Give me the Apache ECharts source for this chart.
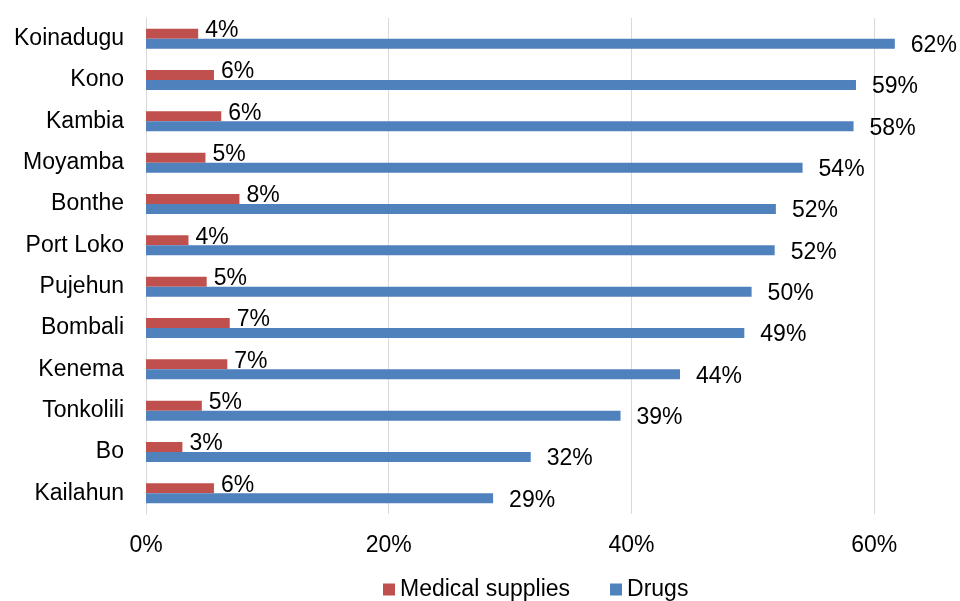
<!DOCTYPE html>
<html>
<head>
<meta charset="utf-8">
<script src="https://cdn.jsdelivr.net/npm/echarts@6/dist/echarts.min.js"></script>
<style>
html,body{margin:0;padding:0;background:#fff;}
#chart{width:960px;height:601px;}
</style>
</head>
<body>
<div id="chart"></div>
<script>
// Categories listed top to bottom
const districts = ['Koinadugu','Kono','Kambia','Moyamba','Bonthe','Port Loko','Pujehun','Bombali','Kenema','Tonkolili','Bo','Kailahun'];
const medicalSupplies = [4.3, 5.6, 6.2, 4.9, 7.7, 3.5, 5.0, 6.9, 6.7, 4.6, 3.0, 5.6];
const drugs = [61.7, 58.5, 58.3, 54.1, 51.9, 51.8, 49.9, 49.3, 44.0, 39.1, 31.7, 28.6];
const xTicks = [0, 20, 40, 60];
const seriesNames = ['Medical supplies', 'Drugs'];

const FONT = '"Liberation Sans", Arial, sans-serif';
const chart = echarts.init(document.getElementById('chart'), null, {renderer: 'canvas'});
chart.setOption({
  animation: false,
  backgroundColor: '#ffffff',
  textStyle: {fontFamily: FONT},
  grid: {left: 146, right: 13, top: 18, bottom: 87, containLabel: false},
  legend: {
    data: seriesNames,
    left: 383, top: 578, padding: 0,
    icon: 'rect', itemWidth: 12, itemHeight: 12, itemGap: 40,
    textStyle: {fontFamily: FONT, fontSize: 23, color: '#000'}
  },
  xAxis: {
    type: 'value', min: 0, max: 66, interval: 20,
    axisLine: {show: false}, axisTick: {show: false},
    axisLabel: {
      fontFamily: FONT, fontSize: 23, color: '#000', margin: 20,
      showMaxLabel: false,
      formatter: v => xTicks.includes(v) ? v + '%' : ''
    },
    splitLine: {show: true, showMinLine: true, showMaxLine: false, lineStyle: {color: '#d9d9d9', width: 1}}
  },
  yAxis: {
    type: 'category', data: districts, inverse: true,
    axisLine: {show: true, lineStyle: {color: '#d9d9d9', width: 1}},
    axisTick: {show: false},
    axisLabel: {fontFamily: FONT, fontSize: 23, color: '#000', margin: 22, padding: [4, 0, 0, 0]}
  },
  series: [
    {
      name: seriesNames[0], type: 'bar', data: medicalSupplies,
      barWidth: 10, barGap: '0%',
      itemStyle: {color: '#C0504D'},
      label: {show: true, position: 'right', distance: 7, offset: [0, -3],
        fontFamily: FONT, fontSize: 23, color: '#000',
        formatter: p => Math.round(p.value) + '%'}
    },
    {
      name: seriesNames[1], type: 'bar', data: drugs,
      barWidth: 10, barGap: '0%',
      itemStyle: {color: '#4F81BD'},
      label: {show: true, position: 'right', distance: 16, offset: [0, 2],
        fontFamily: FONT, fontSize: 23, color: '#000',
        formatter: p => Math.round(p.value) + '%'}
    }
  ]
});
</script>
</body>
</html>
